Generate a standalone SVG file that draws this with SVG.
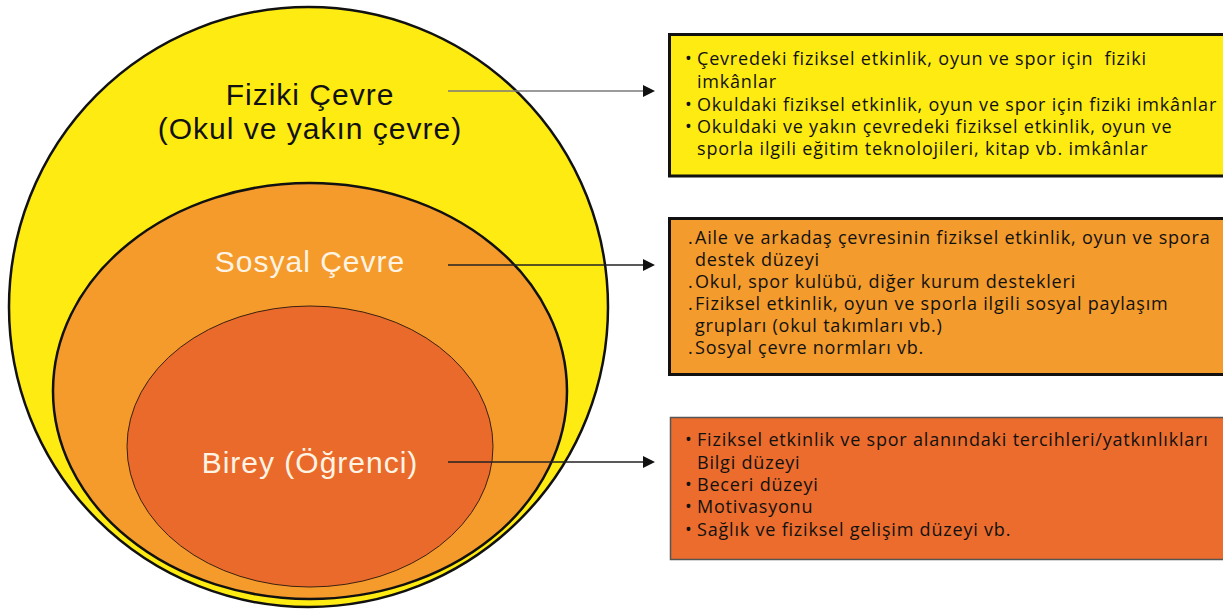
<svg xmlns="http://www.w3.org/2000/svg" width="1223" height="610" viewBox="0 0 1223 610">
<style>
.lbl{font-family:"Liberation Sans",Arial,sans-serif;font-size:30px;letter-spacing:1px;text-anchor:middle}
.dark{fill:#111}
.light{fill:#FFF4E4}
.box text{font-family:"Open Sans","Noto Sans",sans-serif;font-size:18px;letter-spacing:0.8px;fill:#111}
.conn{fill:none;stroke-width:1.3}
</style>
<defs>
<marker id="ah" markerUnits="userSpaceOnUse" markerWidth="12" markerHeight="12" refX="0" refY="6" orient="auto">
<path d="M0,0 L12,6 L0,12 Z" fill="#111"/>
</marker>
</defs>
<rect width="1223" height="610" fill="#fff"/>
<g id="fiziki-cevre">
<ellipse cx="308.5" cy="307" rx="299.5" ry="300" fill="#FEEB12" stroke="#111" stroke-width="2.5"/>
<text class="lbl dark" x="310" y="105">Fiziki Çevre</text>
<text class="lbl dark" x="310" y="139">(Okul ve yakın çevre)</text>
</g>
<g id="sosyal-cevre">
<ellipse cx="310" cy="391" rx="257" ry="208" fill="#F59B2B" stroke="#111" stroke-width="2.5"/>
<text class="lbl light" x="310" y="272">Sosyal Çevre</text>
</g>
<g id="birey">
<ellipse cx="310" cy="446.5" rx="183" ry="140.5" fill="#EA6A2B" stroke="#3a2010" stroke-width="1"/>
<text class="lbl light" x="310" y="473">Birey (Öğrenci)</text>
</g>
<g id="box-fiziki" class="box">
<rect x="669.5" y="34.5" width="570" height="141.5" fill="#FEEB12" stroke="#111" stroke-width="3"/>
<text x="685" y="65">•</text><text x="697" y="65" xml:space="preserve">Çevredeki fiziksel etkinlik, oyun ve spor için  fiziki</text>
<text x="697" y="88">imkânlar</text>
<text x="685" y="111">•</text><text x="697" y="111">Okuldaki fiziksel etkinlik, oyun ve spor için fiziki imkânlar</text>
<text x="685" y="133">•</text><text x="697" y="133">Okuldaki ve yakın çevredeki fiziksel etkinlik, oyun ve</text>
<text x="697" y="155">sporla ilgili eğitim teknolojileri, kitap vb. imkânlar</text>
</g>
<g id="box-sosyal" class="box">
<rect x="669.5" y="218.5" width="570" height="156" fill="#F39B2C" stroke="#111" stroke-width="3"/>
<text x="688" y="244">.</text><text x="695" y="244">Aile ve arkadaş çevresinin fiziksel etkinlik, oyun ve spora</text>
<text x="695" y="266">destek düzeyi</text>
<text x="688" y="288">.</text><text x="695" y="288">Okul, spor kulübü, diğer kurum destekleri</text>
<text x="688" y="310">.</text><text x="695" y="310">Fiziksel etkinlik, oyun ve sporla ilgili sosyal paylaşım</text>
<text x="695" y="332">grupları (okul takımları vb.)</text>
<text x="688" y="354">.</text><text x="695" y="354">Sosyal çevre normları vb.</text>
</g>
<g id="box-birey" class="box">
<rect x="670.5" y="417.5" width="570" height="142" fill="#EB6C2C" stroke="#555" stroke-width="1.5"/>
<text x="685" y="446">•</text><text x="697" y="446">Fiziksel etkinlik ve spor alanındaki tercihleri/yatkınlıkları</text>
<text x="697" y="469">Bilgi düzeyi</text>
<text x="685" y="491">•</text><text x="697" y="491">Beceri düzeyi</text>
<text x="685" y="513">•</text><text x="697" y="513">Motivasyonu</text>
<text x="685" y="536">•</text><text x="697" y="536">Sağlık ve fiziksel gelişim düzeyi vb.</text>
</g>
<g id="connectors">
<path class="conn" d="M448,91 L643,91" stroke="#7a7a7a" marker-end="url(#ah)"/>
<path class="conn" d="M448,265 L643,265" stroke="#222" marker-end="url(#ah)"/>
<path class="conn" d="M448,462 L643,462" stroke="#222" marker-end="url(#ah)"/>
</g>
</svg>
